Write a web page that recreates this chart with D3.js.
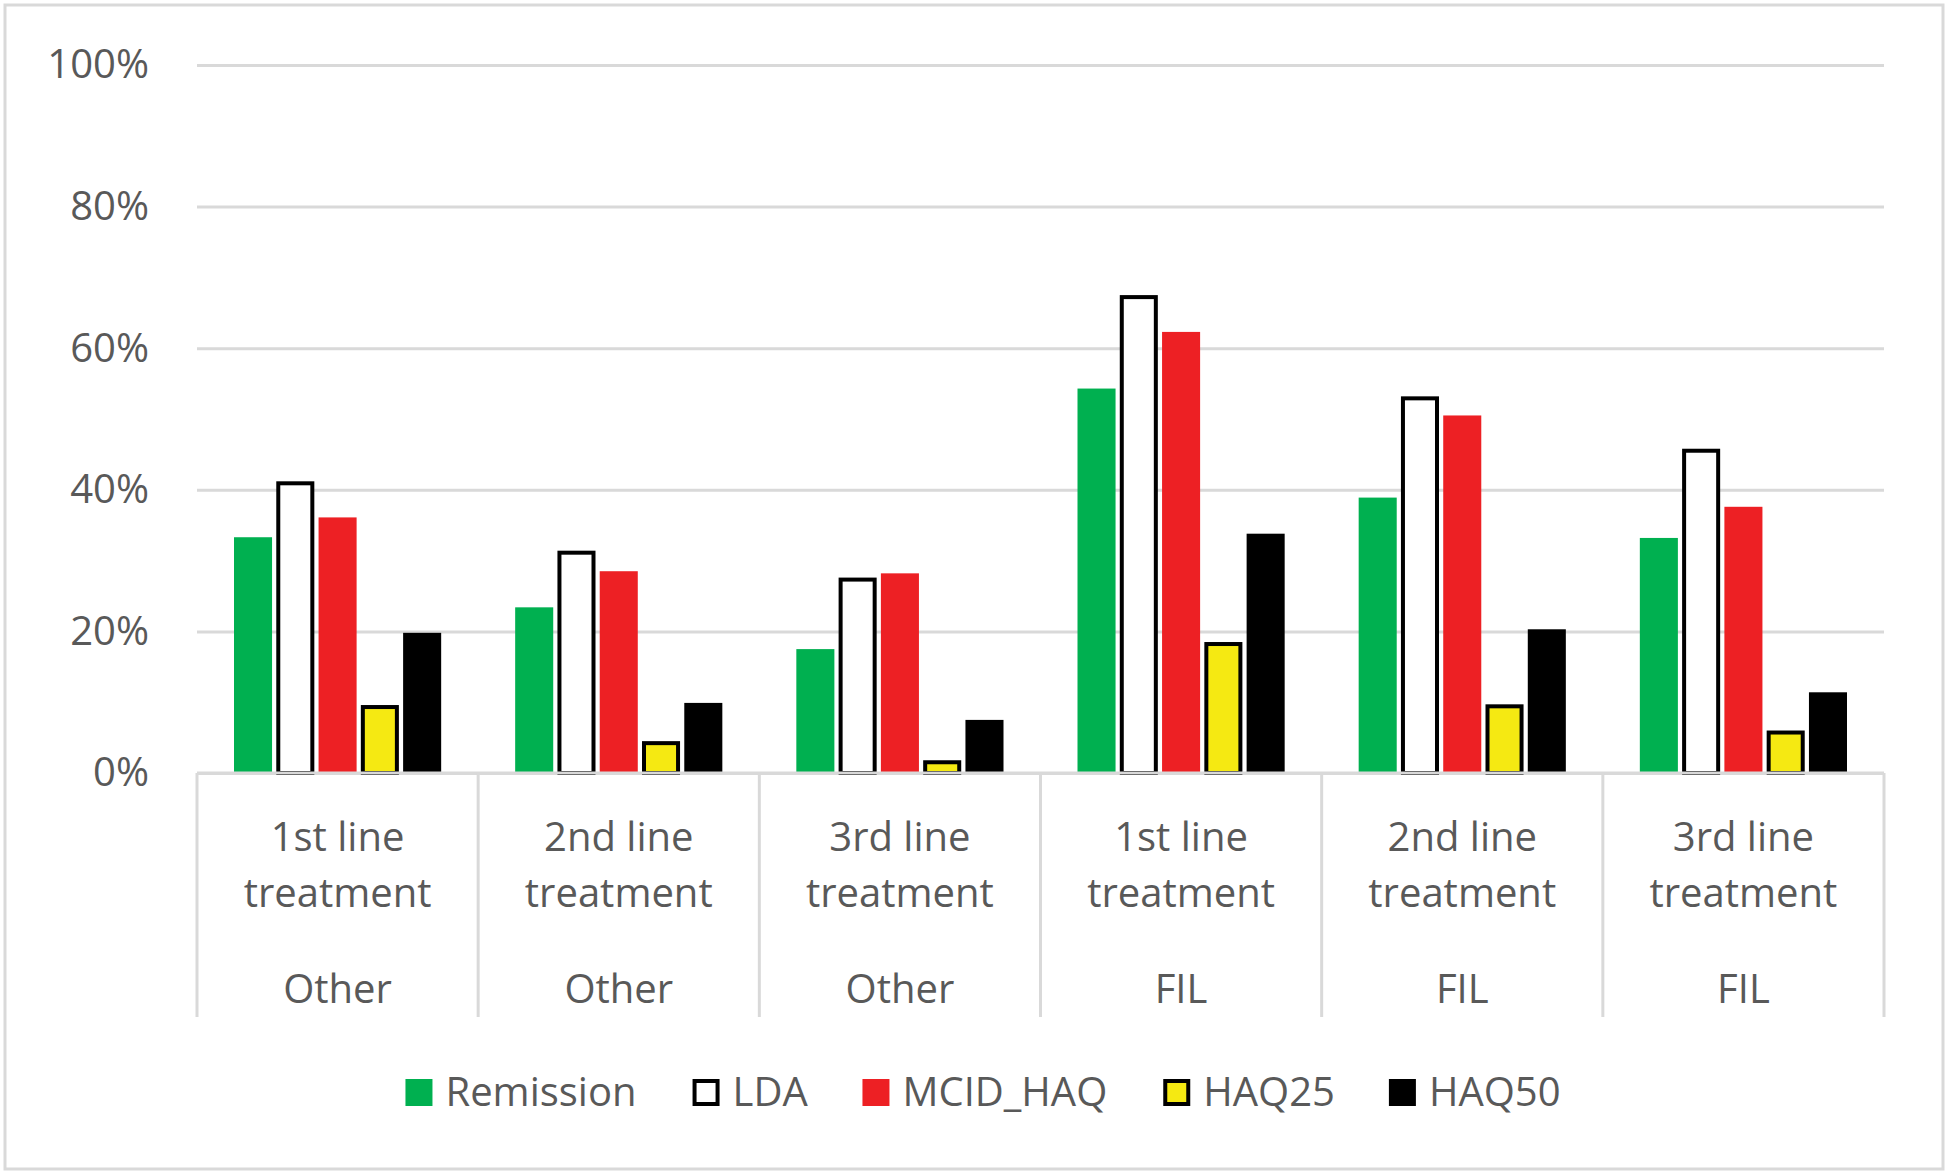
<!DOCTYPE html>
<html>
<head>
	<title>Response rates</title>
	<script src="https://d3js.org/d3.v7.min.js"></script>
	<style>
		body { margin: 0; background: #fff; }
		text { font-family: "Open Sans", sans-serif; fill: #595959; }
	</style>
</head>
<body>
<section id="container"></section>
<script>

//Category labels (two rows plus group row)
var lineLabels = ["1st line", "2nd line", "3rd line", "1st line", "2nd line", "3rd line"];
var treatLabels = ["treatment", "treatment", "treatment", "treatment", "treatment", "treatment"];
var groupLabels = ["Other", "Other", "Other", "FIL", "FIL", "FIL"];

//Series names, values (percent)
var seriesNames = ["Remission", "LDA", "MCID_HAQ", "HAQ25", "HAQ50"];
var remission = [33.3, 23.4, 17.5, 54.3, 38.9, 33.2];
var lda = [41.2, 31.4, 27.6, 67.5, 53.2, 45.8];
var mcidHaq = [36.1, 28.5, 28.2, 62.3, 50.5, 37.6];
var haq25 = [9.6, 4.5, 1.8, 18.5, 9.7, 6.0];
var haq50 = [19.8, 9.9, 7.5, 33.8, 20.3, 11.4];
var yTicks = [0, 0.2, 0.4, 0.6, 0.8, 1];

var seriesValues = [remission, lda, mcidHaq, haq25, haq50];
var fills = ["#00b050", "#ffffff", "#ed2024", "#f5e912", "#000000"];
var strokes = [null, "#000", null, "#000", null];

var svgWidth = 1950, svgHeight = 1175;
var plotLeft = 197, plotRight = 1884, plotTop = 65, plotBase = 773;

var svg = d3.select("#container")
	.append("svg")
	.attr("width", svgWidth)
	.attr("height", svgHeight);

//outer frame
svg.append("rect")
	.attr("x", 5).attr("y", 5)
	.attr("width", 1938).attr("height", 1164)
	.attr("fill", "none")
	.attr("stroke", "#d9d9d9")
	.attr("stroke-width", 3);

var y = d3.scaleLinear().domain([0, 1]).range([plotBase, plotTop]);
var x0 = d3.scaleBand().domain(d3.range(lineLabels.length)).range([plotLeft, plotRight]).padding(0);
var x1 = d3.scaleBand().domain(d3.range(seriesNames.length))
	.range([37, x0.bandwidth() - 37]).paddingInner(0.1);

//gridlines + tick labels
var yAxis = svg.append("g")
	.attr("transform", "translate(" + plotLeft + ",0)")
	.call(d3.axisLeft(y).tickValues(yTicks).tickFormat(d3.format(".0%"))
		.tickSize(-(plotRight - plotLeft)).tickPadding(48));
yAxis.select(".domain").remove();
yAxis.selectAll(".tick line").attr("stroke", "#d9d9d9").attr("stroke-width", 3);
yAxis.selectAll(".tick text")
	.style("font-size", "40px")
	.style("font-family", "'Open Sans', sans-serif")
	.attr("fill", "#595959");

//bars
var groups = svg.selectAll("g.cat")
	.data(d3.range(lineLabels.length))
	.enter().append("g")
	.attr("class", "cat")
	.attr("transform", function(d) { return "translate(" + x0(d) + ",0)"; });

groups.selectAll("rect")
	.data(function(c) {
		return seriesValues.map(function(vals, s) { return {s: s, v: vals[c] / 100}; });
	})
	.enter().append("rect")
	.attr("x", function(d) { return x1(d.s) + (strokes[d.s] ? 2 : 0); })
	.attr("width", function(d) { return x1.bandwidth() - (strokes[d.s] ? 4 : 0); })
	.attr("y", function(d) { return y(d.v) + (strokes[d.s] ? 2 : 0); })
	.attr("height", function(d) { return plotBase - y(d.v) - (strokes[d.s] ? 2 : 0); })
	.attr("fill", function(d) { return fills[d.s]; })
	.attr("stroke", function(d) { return strokes[d.s]; })
	.attr("stroke-width", 4);

//category axis
var xAxis = svg.append("g");
xAxis.append("line")
	.attr("x1", plotLeft).attr("x2", plotRight)
	.attr("y1", plotBase).attr("y2", plotBase)
	.attr("stroke", "#d9d9d9").attr("stroke-width", 3);
xAxis.selectAll("line.div")
	.data(d3.range(lineLabels.length + 1))
	.enter().append("line")
	.attr("class", "div")
	.attr("x1", function(d) { return plotLeft + d * x0.bandwidth(); })
	.attr("x2", function(d) { return plotLeft + d * x0.bandwidth(); })
	.attr("y1", plotBase).attr("y2", 1017)
	.attr("stroke", "#d9d9d9").attr("stroke-width", 3);

var rows = [[lineLabels, 837], [treatLabels, 893], [groupLabels, 989]];
rows.forEach(function(r) {
	xAxis.selectAll(null)
		.data(r[0])
		.enter().append("text")
		.attr("x", function(d, i) { return x0(i) + x0.bandwidth() / 2; })
		.attr("y", r[1])
		.attr("dy", "0.35em")
		.attr("text-anchor", "middle")
		.style("font-size", "40px")
		.text(function(d) { return d; });
});

//legend
var legend = svg.append("g").attr("transform", "translate(0,1092)");
var items = legend.selectAll("g")
	.data(seriesNames)
	.enter().append("g");
items.append("rect")
	.attr("y", -13).attr("width", 27).attr("height", 27)
	.attr("fill", function(d, i) { return fills[i]; })
	.attr("stroke", function(d, i) { return strokes[i]; })
	.attr("stroke-width", 4)
	.each(function(d, i) {
		if (strokes[i]) d3.select(this).attr("x", 2).attr("y", -11).attr("width", 23).attr("height", 23);
	});
items.append("text")
	.attr("x", 40)
	.attr("dy", "0.35em")
	.style("font-size", "40px")
	.text(function(d) { return d; });

var widths = [];
items.each(function() { widths.push(this.getBBox().width); });
var gap = 56;
var total = d3.sum(widths) + gap * (widths.length - 1);
var cursor = 983 - total / 2;
items.attr("transform", function(d, i) {
	var t = "translate(" + cursor + ",0)";
	cursor += widths[i] + gap;
	return t;
});

</script>
</body>
</html>
